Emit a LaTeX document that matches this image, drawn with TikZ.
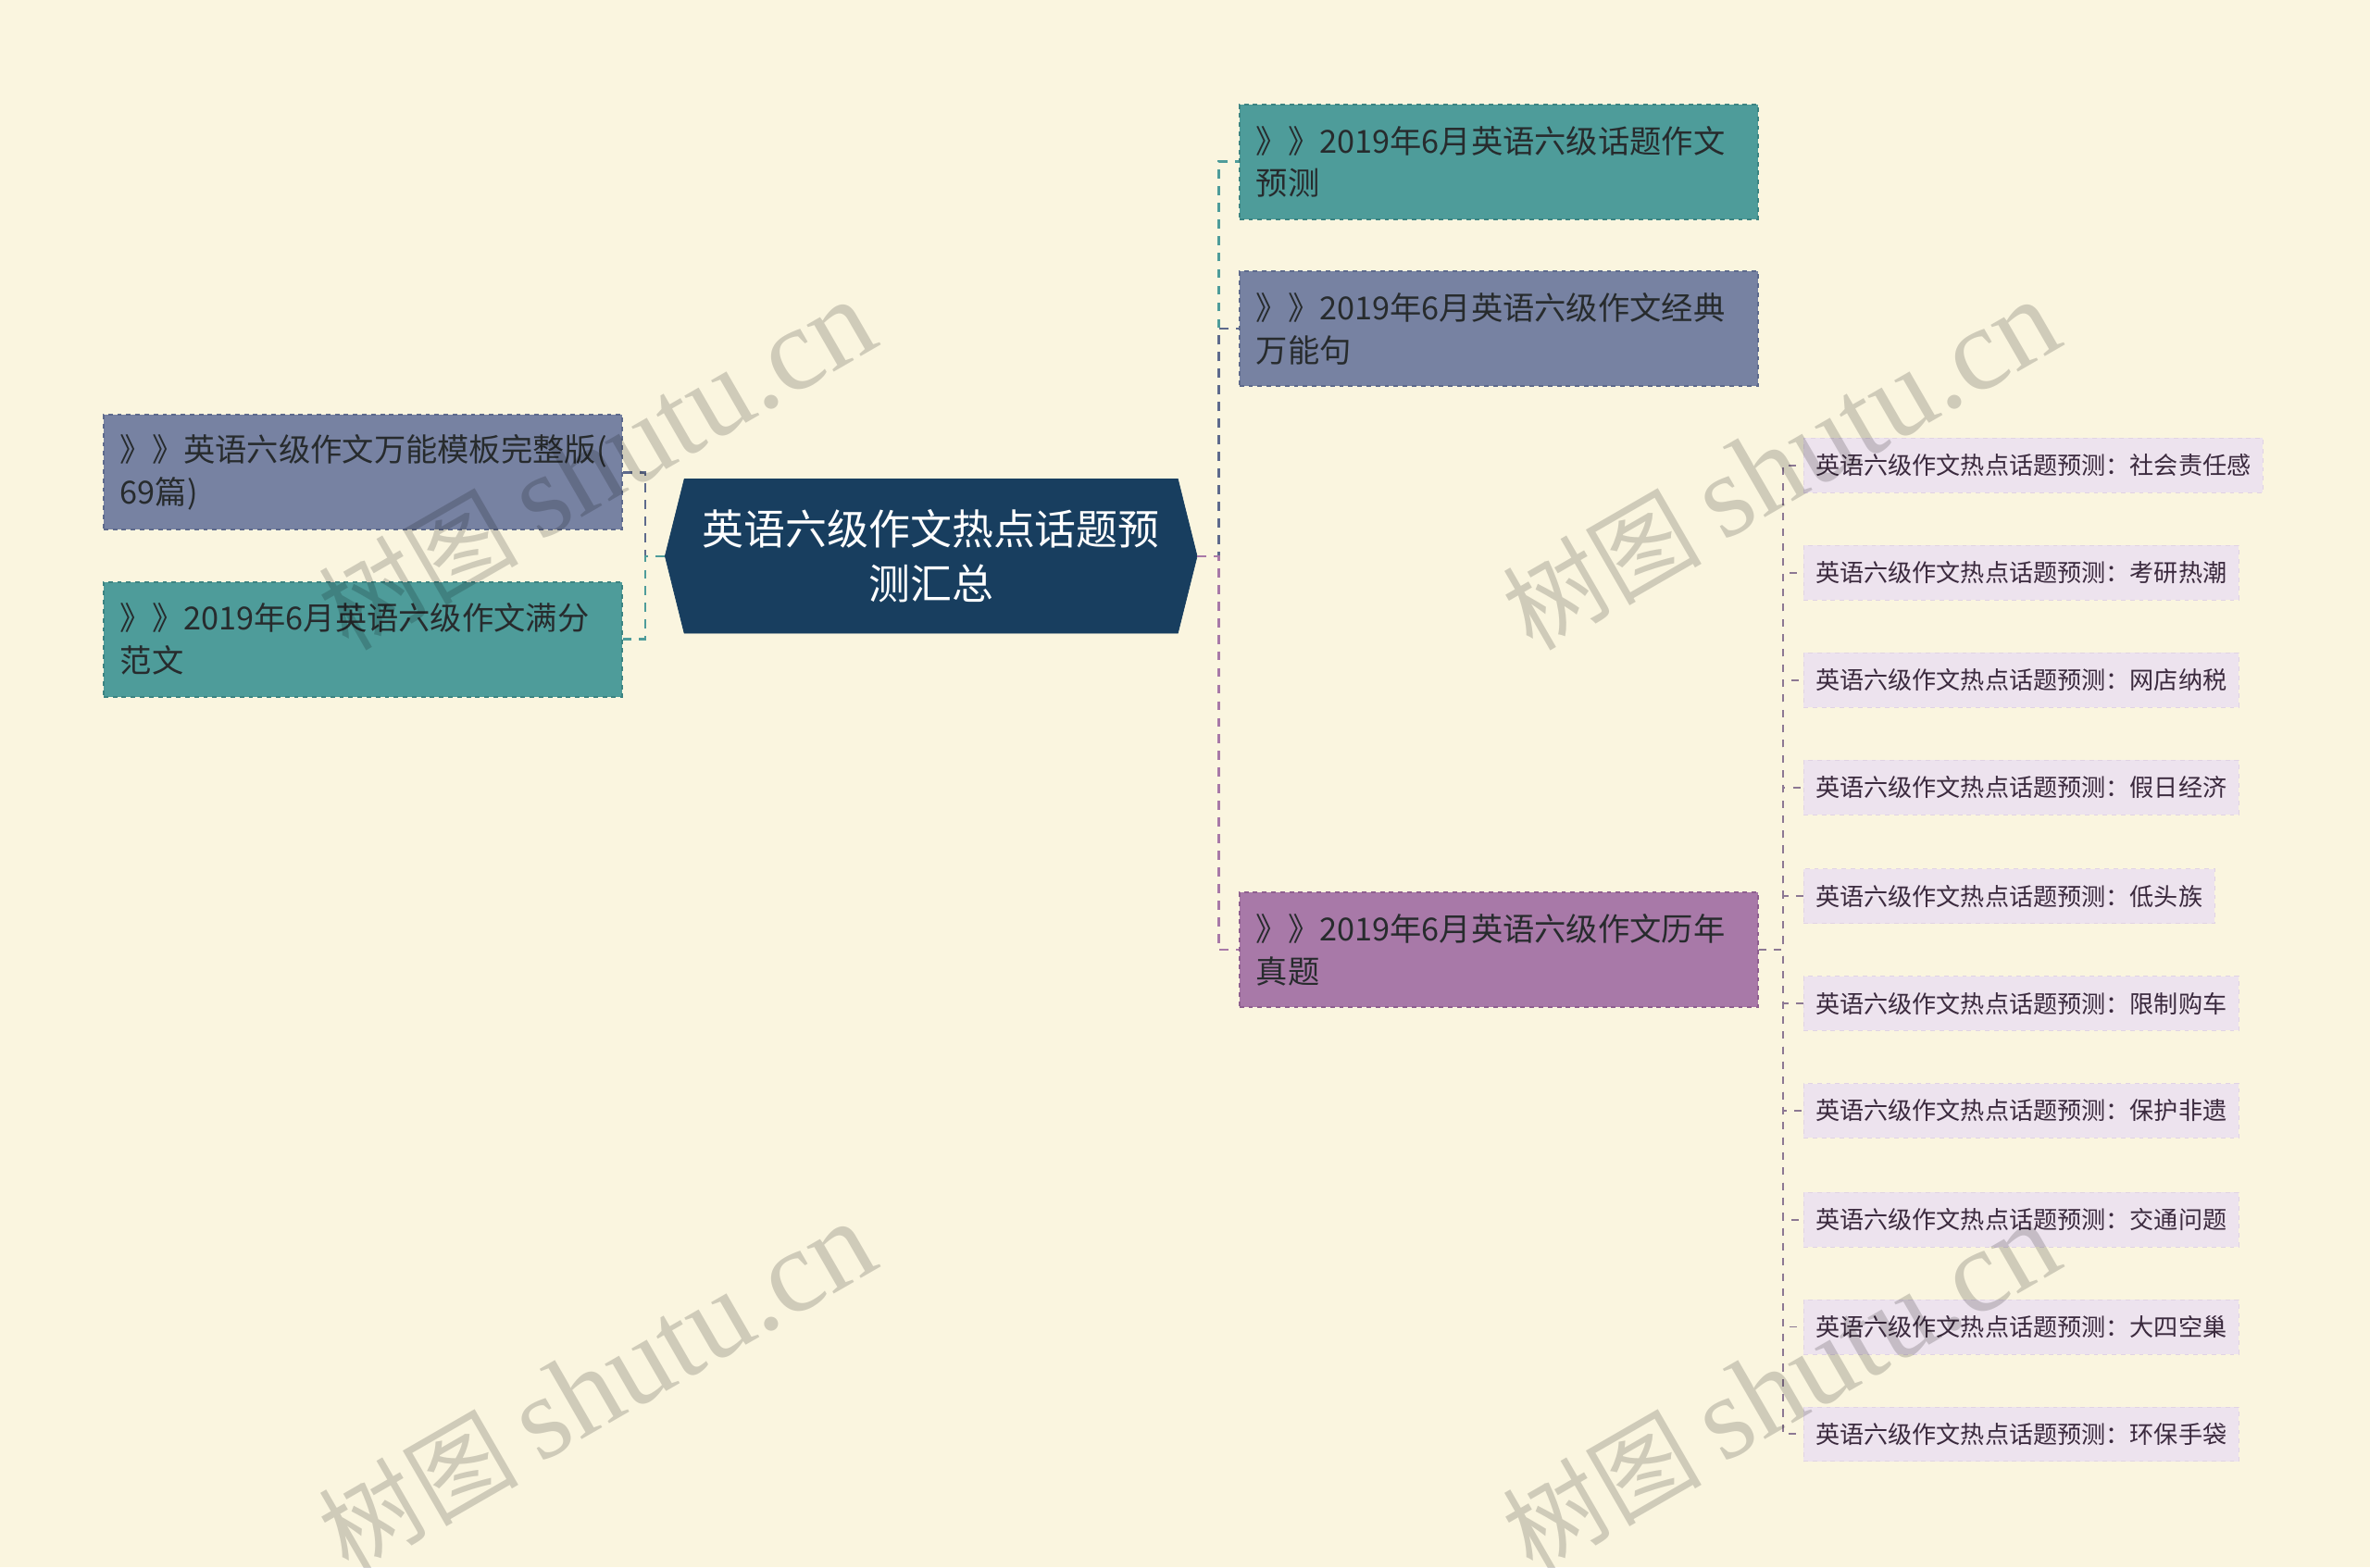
\documentclass[tikz,border=0pt]{standalone}
\usepackage{fontspec}
\newfontfamily\cjk{Noto Sans CJK SC}
\newfontfamily\wmserif{Liberation Serif}
\usetikzlibrary{shapes.symbols}

\definecolor{bgcream}{HTML}{FAF5DF}
\definecolor{rootnavy}{HTML}{183E5F}
\definecolor{tealfill}{HTML}{4E9C9A}
\definecolor{tealline}{HTML}{3C8482}
\definecolor{slatefill}{HTML}{7782A2}
\definecolor{slateline}{HTML}{5E6A8C}
\definecolor{purplefill}{HTML}{A879A8}
\definecolor{purpleline}{HTML}{8E5F8F}
\definecolor{leaffill}{HTML}{EDE3EE}
\definecolor{leafline}{HTML}{E0D3E4}
\definecolor{boxtext}{HTML}{272B2D}
\definecolor{leaftext}{HTML}{3B2A3E}
\definecolor{leaflink}{HTML}{8C7893}

\newcommand{\wmtext}{{\cjk\fontsize{66}{66}\selectfont 树图}\hspace{14pt}{\wmserif\fontsize{78}{78}\selectfont shutu.cn}}

\begin{document}
\begin{tikzpicture}[
  x=1pt,y=-1pt,
  topic/.style={signal, signal to=west and east, signal pointer angle=152, fill=rootnavy, draw=rootnavy, text=white, minimum width=352pt, minimum height=102pt, inner sep=0pt, align=center, font=\cjk\fontsize{27.5}{36}\selectfont},
  box/.style={draw, dashed, line width=1.2pt, text width=321pt, inner sep=11pt, minimum height=76pt, align=left, text=boxtext, font=\cjk\fontsize{21}{28}\selectfont},
  leaf/.style={draw=leafline, dashed, fill=leaffill, inner xsep=8pt, inner ysep=0pt, minimum height=36pt, anchor=west, text=leaftext, font=\cjk\fontsize{16}{20}\selectfont},
  link/.style={line width=1.6pt, dash pattern=on 6pt off 5pt},
  leaflink/.style={line width=1.2pt, draw=leaflink, dash pattern=on 5pt off 5pt},
  wmark/.style={rotate=30, text=black, text opacity=0.17, inner sep=0pt}
]

\useasboundingbox (0,0) rectangle (1568,1037);
\clip (0,0) rectangle (1568,1037);
\fill[bgcream] (0,0) rectangle (1568,1037);

% centre
\node[topic] (root) at (616,368) {英语六级作文热点话题预\\测汇总};

% left side
\node[box, fill=slatefill, draw=slateline] (l1) at (240,312.5) {》》英语六级作文万能模板完整版(\\69篇)};
\node[box, fill=tealfill, draw=tealline] (l2) at (240,423) {》》2019年6月英语六级作文满分\\范文};
\draw[link, slateline] (root.west) -- ++(-13,0) |- (l1.east);
\draw[link, tealfill] (root.west) -- ++(-13,0) |- (l2.east);

% right side
\node[box, fill=tealfill, draw=tealline] (r1) at (991.5,107) {》》2019年6月英语六级话题作文\\预测};
\node[box, fill=slatefill, draw=slateline] (r2) at (991.5,217.5) {》》2019年6月英语六级作文经典\\万能句};
\node[box, fill=purplefill, draw=purpleline] (r3) at (991.5,628.5) {》》2019年6月英语六级作文历年\\真题};
\draw[link, tealfill] (root.east) -- ++(14,0) |- (r1.west);
\draw[link, slateline] (root.east) -- ++(14,0) |- (r2.west);
\draw[link, purplefill] (root.east) -- ++(14,0) |- (r3.west);

% topics under r3
\node[leaf] (k1) at (1193,308) {英语六级作文热点话题预测：社会责任感};
\node[leaf] (k2) at (1193,379) {英语六级作文热点话题预测：考研热潮};
\node[leaf] (k3) at (1193,450) {英语六级作文热点话题预测：网店纳税};
\node[leaf] (k4) at (1193,521) {英语六级作文热点话题预测：假日经济};
\node[leaf] (k5) at (1193,593) {英语六级作文热点话题预测：低头族};
\node[leaf] (k6) at (1193,664) {英语六级作文热点话题预测：限制购车};
\node[leaf] (k7) at (1193,735) {英语六级作文热点话题预测：保护非遗};
\node[leaf] (k8) at (1193,807) {英语六级作文热点话题预测：交通问题};
\node[leaf] (k9) at (1193,878) {英语六级作文热点话题预测：大四空巢};
\node[leaf] (k10) at (1193,949) {英语六级作文热点话题预测：环保手袋};
\draw[leaflink] (r3.east) -- ++(16,0) |- (k1.west);
\draw[leaflink] (r3.east) -- ++(16,0) |- (k2.west);
\draw[leaflink] (r3.east) -- ++(16,0) |- (k3.west);
\draw[leaflink] (r3.east) -- ++(16,0) |- (k4.west);
\draw[leaflink] (r3.east) -- ++(16,0) |- (k5.west);
\draw[leaflink] (r3.east) -- ++(16,0) |- (k6.west);
\draw[leaflink] (r3.east) -- ++(16,0) |- (k7.west);
\draw[leaflink] (r3.east) -- ++(16,0) |- (k8.west);
\draw[leaflink] (r3.east) -- ++(16,0) |- (k9.west);
\draw[leaflink] (r3.east) -- ++(16,0) |- (k10.west);

% watermarks
\node[wmark] (w1) at (395,308) {\wmtext};
\node[wmark] (w2) at (1178,308) {\wmtext};
\node[wmark] (w3) at (395,918) {\wmtext};
\node[wmark] (w4) at (1178,918) {\wmtext};

\end{tikzpicture}
\end{document}
